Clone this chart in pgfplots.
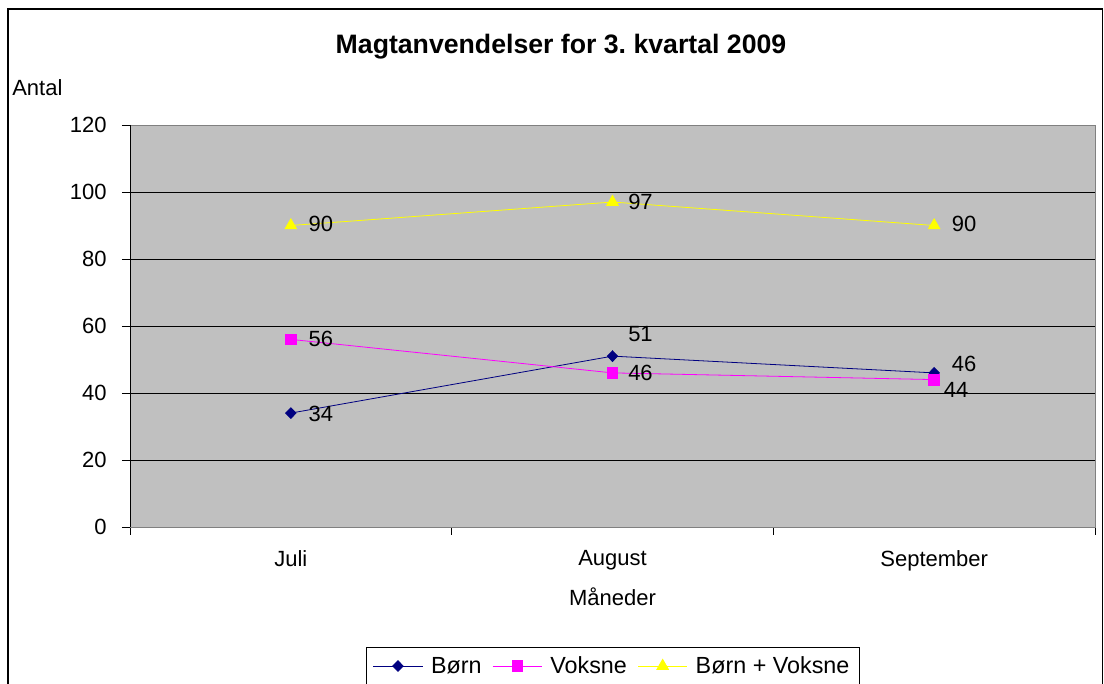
\documentclass[border=0pt]{standalone}
\usepackage{pgfplots}
\pgfplotsset{compat=1.18}
\usepackage{fontspec}
\setmainfont{Liberation Sans}
\frenchspacing
\definecolor{plotgray}{RGB}{192,192,192}
\definecolor{born}{RGB}{0,0,128}
\definecolor{voksne}{RGB}{255,0,255}
\definecolor{bv}{RGB}{255,255,0}
\newcommand{\lbl}{\fontsize{16.5}{19}\selectfont}
\begin{document}
\begin{tikzpicture}
\clip (0,0) rectangle (828pt,513pt);
\useasboundingbox (0,0) rectangle (828pt,513pt);
\fill[white] (0,0) rectangle (828pt,513pt);
\draw[black, line width=0.8pt] (6pt,-5pt) rectangle (827.2pt,506.25pt);
\node[font=\fontsize{20}{24}\selectfont\bfseries] at (420.75pt,477.75pt) {Magtanvendelser for 3.\ kvartal 2009};
\node[font=\lbl, anchor=west, inner sep=0pt] at (9pt,447pt) {Antal};
\begin{axis}[
  at={(97.5pt,117.75pt)}, anchor=south west,
  scale only axis, width=723.75pt, height=301.5pt,
  xmin=-0.5, xmax=2.5, ymin=0, ymax=120,
  xtick={0,1,2}, xticklabels={Juli,August,September},
  minor xtick={-0.5,0.5,1.5,2.5},
  ytick={0,20,40,60,80,100,120},
  major x tick style={draw=none},
  tick align=outside, xtick pos=bottom, ytick pos=left,
  major tick length=6pt, minor tick length=6pt,
  every tick/.style={black, thin},
  ymajorgrids, grid style={black, line width=0.6pt},
  axis line style={gray},
  axis background/.style={fill=plotgray},
  tick label style={font=\lbl},
  /pgf/number format/assume math mode=true,
  xticklabel style={yshift=-8pt},
  yticklabel style={xshift=-8pt},
  xlabel={Måneder}, xlabel style={font=\lbl, yshift=-6pt},
  nodes near coords,
  every node near coord/.append style={font=\lbl, anchor=center, xshift=\dx, yshift=\dy, text=black},
  visualization depends on={\thisrow{dx} \as \dx},
  visualization depends on={\thisrow{dy} \as \dy},
  legend columns=-1,
  legend style={at={(0.5,-0.2985)}, anchor=north, draw=black, font=\fontsize{17.5}{20}\selectfont,
    /tikz/every odd column/.append style={column sep=4pt},
    /tikz/every even column/.append style={column sep=6pt},
    inner xsep=5pt, inner ysep=5pt},
  legend image code/.code={\draw[mark repeat=2,mark phase=2] plot coordinates {(0pt,0pt)(18.5pt,0pt)(37pt,0pt)};},
]
\draw[black, line width=0.6pt] (rel axis cs:0,1) -- (rel axis cs:0,0) -- (rel axis cs:1,0);
\addplot[born, line width=0.6pt, mark=diamond*, mark size=4pt, mark options={fill=born, xscale=1.3}] table {
x y dx dy
0 34 22.5pt -0.75pt
1 51 21pt 16.5pt
2 46 22.5pt 6.75pt
};
\addlegendentry{Børn}
\addplot[voksne, line width=0.6pt, mark=square*, mark size=4pt, mark options={fill=voksne}] table {
x y dx dy
0 56 22.5pt 0pt
1 46 21pt 0pt
2 44 16.5pt -7.5pt
};
\addlegendentry{Voksne}
\addplot[bv, line width=0.6pt, mark=triangle*, mark size=5pt, mark options={fill=bv}] table {
x y dx dy
0 90 22.5pt 1pt
1 97 21pt 0pt
2 90 22.5pt 1pt
};
\addlegendentry{Børn + Voksne}
\end{axis}
\end{tikzpicture}
\end{document}
